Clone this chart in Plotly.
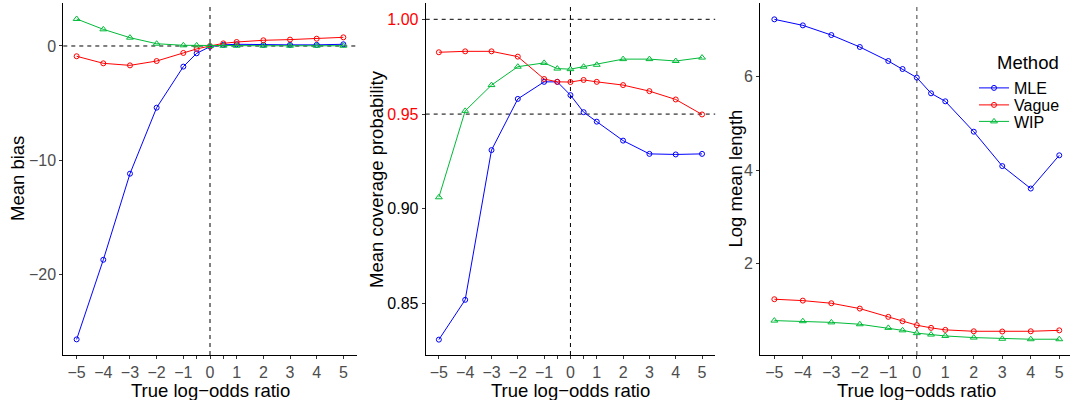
import plotly.graph_objects as go

# True log-odds ratio grid
x_vals = [-5, -4, -3, -2, -1, -0.5, 0, 0.5, 1, 2, 3, 4, 5]
methods = ["MLE", "Vague", "WIP"]

# Mean bias
bias_mle = [-25.73, -18.75, -11.2, -5.41, -1.81, -0.64, -0.06, 0.1, 0.15, 0.1, 0.1, 0.1, 0.15]
bias_vague = [-0.9, -1.52, -1.7, -1.32, -0.61, -0.26, 0.0, 0.23, 0.35, 0.5, 0.56, 0.64, 0.76]
bias_wip = [2.37, 1.46, 0.73, 0.2, 0.06, 0.05, 0.0, 0.02, 0.02, 0.02, 0.02, 0.02, 0.02]

# Mean coverage probability
cov_mle = [0.831, 0.852, 0.931, 0.958, 0.967, 0.967, 0.960, 0.951, 0.946, 0.936, 0.929, 0.9287, 0.929]
cov_vague = [0.9826, 0.9831, 0.9831, 0.9803, 0.9685, 0.967, 0.9669, 0.968, 0.967, 0.9653, 0.9621, 0.9577, 0.9498]
cov_wip = [0.9061, 0.9517, 0.9653, 0.975, 0.977, 0.974, 0.9737, 0.975, 0.976, 0.979, 0.979, 0.978, 0.9798]

# Log mean length
len_mle = [7.226, 7.097, 6.89, 6.635, 6.335, 6.164, 5.98, 5.645, 5.474, 4.825, 4.09, 3.61, 4.32]
len_vague = [1.245, 1.215, 1.159, 1.045, 0.868, 0.775, 0.69, 0.633, 0.59, 0.56, 0.555, 0.56, 0.58]
len_wip = [0.788, 0.775, 0.75, 0.71, 0.633, 0.58, 0.52, 0.49, 0.46, 0.425, 0.40, 0.39, 0.39]

x_tickvals = [-5, -4, -3, -2, -1, -0.5, 0, 0.5, 1, 2, 3, 4, 5]
x_ticktext = ["−5", "−4", "−3", "−2", "−1", "", "0", "", "1", "2", "3", "4", "5"]
x_title = "True log−odds ratio"
y_titles = ["Mean bias", "Mean coverage probability", "Log mean length"]

colors = {"MLE": "#0000FF", "Vague": "#FF0000", "WIP": "#00BA38"}
symbols = {"MLE": "circle-open", "Vague": "circle-open", "WIP": "triangle-up-open"}
msizes = {"MLE": 5, "Vague": 5, "WIP": 6}
legend_ids = {"MLE": "legend", "Vague": "legend2", "WIP": "legend3"}

panels = [
    ("x", "y", {"MLE": bias_mle, "Vague": bias_vague, "WIP": bias_wip}),
    ("x2", "y2", {"MLE": cov_mle, "Vague": cov_vague, "WIP": cov_wip}),
    ("x3", "y3", {"MLE": len_mle, "Vague": len_vague, "WIP": len_wip}),
]

FONT = "Liberation Sans, Arial, Helvetica, sans-serif"
W, H = 1070, 400

fig = go.Figure()

for i, (xa, ya, series) in enumerate(panels):
    for m in methods:
        fig.add_trace(go.Scatter(
            x=x_vals, y=series[m], xaxis=xa, yaxis=ya,
            mode="lines+markers", name=m,
            line=dict(color=colors[m], width=1),
            marker=dict(symbol=symbols[m], size=msizes[m], color=colors[m],
                        line=dict(width=1, color=colors[m])),
            showlegend=(i == 2), legend=legend_ids[m],
            hoverinfo="skip",
        ))


def px_x(p):
    return p / W


def px_y(p):
    return 1 - p / H


y_dom = [px_y(355), px_y(3)]
x_doms = [[px_x(63.3), px_x(356.7)], [px_x(425.7), px_x(715.2)], [px_x(760.1), 1.0]]
x_ranges = [[-5.5, 5.5], [-5.5, 5.5], [-5.5, 5.377]]
y_ranges = [[-27.1, 3.77], [0.8229, 1.0086], [0.053, 7.575]]

# Title positions (pixels)
x_title_cx = [210, 570.5, 916.5]
y_title_cx = [17, 376, 734.5]

axis_common = dict(
    showgrid=False, zeroline=False, showline=True, linecolor="black", linewidth=1,
    ticks="outside", ticklen=3, tickcolor="#333333", tickwidth=1,
    tickfont=dict(family=FONT, size=16, color="#4D4D4D"),
    automargin=False,
)

layout_axes = {}
for i in range(3):
    sfx = "" if i == 0 else str(i + 1)
    layout_axes["xaxis" + sfx] = dict(
        axis_common, domain=x_doms[i], range=x_ranges[i], anchor="y" + sfx,
        tickmode="array", tickvals=x_tickvals, ticktext=x_ticktext,
    )
    layout_axes["yaxis" + sfx] = dict(
        axis_common, domain=y_dom, range=y_ranges[i], anchor="x" + sfx,
    )

layout_axes["yaxis"].update(tickmode="array", tickvals=[-20, -10, 0], ticktext=["−20", "−10", "0"])
layout_axes["yaxis2"].update(
    tickmode="array", tickvals=[0.85, 0.90, 0.95, 1.00],
    ticktext=["0.85", "0.90", '<span style="color:#FF0000">0.95</span>',
              '<span style="color:#FF0000">1.00</span>'],
    tickfont=dict(family=FONT, size=16, color="black"),
)
layout_axes["yaxis3"].update(tickmode="array", tickvals=[2, 4, 6], ticktext=["2", "4", "6"])

fig.update_layout(**layout_axes)

# Reference lines
shapes = []
for i in range(3):
    sfx = "" if i == 0 else str(i + 1)
    col = "#7F7F7F" if i == 2 else "black"
    wid = 1.5 if i == 2 else 1
    shapes.append(dict(type="line", xref="x" + sfx, yref="y" + sfx + " domain",
                       x0=0, x1=0, y0=0, y1=1, layer="below",
                       line=dict(color=col, width=wid, dash="4px,4px")))
shapes.append(dict(type="line", xref="x domain", yref="y", x0=0, x1=1, y0=0, y1=0,
                   layer="below", line=dict(color="black", width=1, dash="4px,4px")))
for yv in [0.95, 1.00]:
    shapes.append(dict(type="line", xref="x2 domain", yref="y2", x0=0, x1=1, y0=yv, y1=yv,
                       layer="below", line=dict(color="black", width=1, dash="4px,4px")))

title_font = dict(family=FONT, size=18.5, color="black")
annotations = []
for i in range(3):
    annotations.append(dict(text=x_title, xref="paper", yref="paper",
                            x=px_x(x_title_cx[i]), y=0, xanchor="center", yanchor="bottom",
                            yshift=-2, borderpad=0, showarrow=False, font=title_font))
    annotations.append(dict(text=y_titles[i], xref="paper", yref="paper",
                            x=px_x(y_title_cx[i]), y=(y_dom[0] + y_dom[1]) / 2,
                            xanchor="center", yanchor="middle", textangle=-90,
                            showarrow=False, font=title_font))
annotations.append(dict(text="Method", xref="paper", yref="paper", x=px_x(995), y=px_y(62),
                        xanchor="left", yanchor="middle", showarrow=False, font=title_font))

legend_common = dict(
    font=dict(family=FONT, size=16, color="black"), bgcolor="rgba(0,0,0,0)",
    xanchor="left", yanchor="middle", borderwidth=0, itemwidth=30,
)

fig.update_layout(
    width=W, height=H,
    margin=dict(l=0, r=0, t=0, b=0),
    paper_bgcolor="white", plot_bgcolor="white",
    font=dict(family=FONT),
    shapes=shapes,
    annotations=annotations,
    legend=dict(legend_common, x=px_x(974), y=px_y(88)),
    legend2=dict(legend_common, x=px_x(974), y=px_y(105)),
    legend3=dict(legend_common, x=px_x(974), y=px_y(121.5)),
)

fig.write_html("out.html")
